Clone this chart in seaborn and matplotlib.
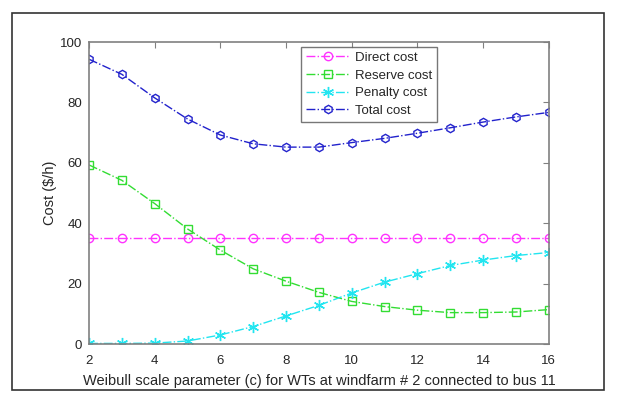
import matplotlib
matplotlib.use("Agg")
import matplotlib.pyplot as plt
import seaborn as sns
from matplotlib.patches import Rectangle

sns.set_style("white")
plt.rcParams['font.family'] = ['Liberation Sans', 'DejaVu Sans']

# data
c_values = [2, 3, 4, 5, 6, 7, 8, 9, 10, 11, 12, 13, 14, 15, 16]
direct_cost = [35, 35, 35, 35, 35, 35, 35, 35, 35, 35, 35, 35, 35, 35, 35]
reserve_cost = [59.3, 54.2, 46.5, 38.1, 31.1, 24.9, 20.8, 17.1, 14.1, 12.4, 11.2, 10.4, 10.4, 10.6, 11.4]
penalty_cost = [0.2, 0.2, 0.3, 1.0, 3.0, 5.8, 9.3, 12.8, 16.9, 20.5, 23.3, 26.0, 27.8, 29.3, 30.3]
total_cost = [94.3, 89.3, 81.5, 74.5, 69.2, 66.3, 65.2, 65.2, 66.7, 68.1, 69.8, 71.6, 73.5, 75.2, 76.7]

fig = plt.figure(figsize=(6.23, 4.01), dpi=100)
ax = fig.add_axes([0.1429, 0.1421, 0.738, 0.7531])

series = [
    ("Direct cost", direct_cost, "#ff33ff", "o", 6),
    ("Reserve cost", reserve_cost, "#33dd33", "s", 5.5),
    ("Penalty cost", penalty_cost, "#22e5f0", (6, 2, 0), 8),
    ("Total cost", total_cost, "#2222cc", "h", 6),
]
for name, vals, col, mk, ms in series:
    sns.lineplot(x=c_values, y=vals, ax=ax, color=col, linestyle="-.", linewidth=1,
                 marker=mk, markersize=ms, markerfacecolor="none", markeredgecolor=col,
                 markeredgewidth=1, label=name)

ax.set_xlim(2, 16)
ax.set_ylim(0, 100)
ax.set_xticks(range(2, 17, 2))
ax.set_yticks(range(0, 101, 20))
ax.tick_params(direction="in", length=4, top=True, right=True, labelsize=9.5,
               color="#808080", labelcolor="#262626")
ax.tick_params(axis="x", pad=8)
ax.tick_params(axis="y", pad=5)
for s in ax.spines.values():
    s.set_visible(True)
    s.set_color("#808080")
    s.set_linewidth(1.2)

ax.set_xlabel("Weibull scale parameter (c) for WTs at windfarm # 2 connected to bus 11",
              fontsize=10.5, color="#262626", labelpad=5)
ax.set_ylabel("Cost ($/h)", fontsize=10.5, color="#262626", labelpad=2)

leg = ax.legend(loc="upper left", bbox_to_anchor=(0.452, 0.998), fontsize=9.5,
                frameon=True, fancybox=False, borderpad=0.4, labelspacing=0.4,
                handlelength=3.3, handletextpad=0.4, borderaxespad=0.3)
leg.get_frame().set_edgecolor("#555555")
leg.get_frame().set_linewidth(1)

# outer frame of the screenshot
fig.patches.append(Rectangle((12 / 623, 1 - 390 / 401), 592 / 623, 377 / 401,
                             transform=fig.transFigure, fill=False,
                             edgecolor="#333333", linewidth=1.2))

fig.savefig("out.png", dpi=100)
